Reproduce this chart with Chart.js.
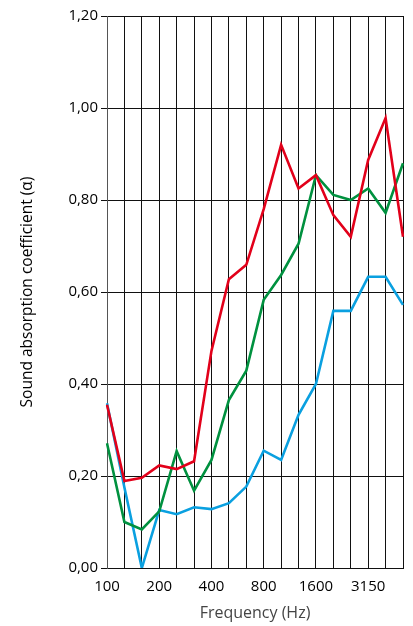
<!DOCTYPE html>
<html>
<head>
<meta charset="utf-8">
<script src="https://cdn.jsdelivr.net/npm/chart.js@4.4.1/dist/chart.umd.min.js"></script>
<style>
  html, body { margin: 0; padding: 0; background: #fff; }
  #wrap { width: 413px; height: 626px; }
</style>
</head>
<body>
<div id="wrap"><canvas id="chart" width="413" height="626"></canvas></div>
<script>
// 1/3 octave bands (Hz)
const bands = ['100', '125', '160', '200', '250', '315', '400', '500', '630', '800',
  '1000', '1250', '1600', '2000', '2500', '3150', '4000', '5000'];
const shownTicks = ['100', '200', '400', '800', '1600', '3150'];

const redValues = [0.355, 0.189, 0.196, 0.223, 0.215, 0.232, 0.472, 0.628, 0.659, 0.78,
  0.92, 0.825, 0.854, 0.767, 0.72, 0.887, 0.978, 0.72];
const greenValues = [0.271, 0.10, 0.084, 0.123, 0.254, 0.168, 0.235, 0.365, 0.429, 0.583,
  0.637, 0.705, 0.854, 0.811, 0.80, 0.825, 0.772, 0.88];
const blueValues = [0.358, 0.175, 0.0, 0.126, 0.117, 0.132, 0.128, 0.141, 0.177, 0.255,
  0.235, 0.333, 0.40, 0.559, 0.559, 0.633, 0.633, 0.572];

const font = '"Open Sans", "DejaVu Sans", sans-serif';

const ctx = document.getElementById('chart');
new Chart(ctx, {
  type: 'line',
  data: {
    labels: bands,
    datasets: [
      { data: redValues, borderColor: '#e2001a' },
      { data: greenValues, borderColor: '#00913f' },
      { data: blueValues, borderColor: '#0aa0e0' },
    ].map(d => Object.assign(d, {
      borderWidth: 2.6,
      pointRadius: 0,
      tension: 0,
      fill: false,
    })),
  },
  options: {
    responsive: false,
    animation: false,
    layout: { padding: { top: 16, right: 9, left: 0, bottom: 0 } },
    plugins: { legend: { display: false }, tooltip: { enabled: false } },
    scales: {
      x: {
        type: 'category',
        offset: false,
        afterFit: s => { s.height = 58; },
        grid: { color: '#111', lineWidth: 1, drawTicks: false },
        border: { color: '#111' },
        ticks: {
          autoSkip: false,
          maxRotation: 0,
          padding: 10,
          color: '#000',
          font: { family: font, size: 15 },
          callback: function (v) {
            const lab = this.getLabelForValue(v);
            return shownTicks.includes(lab) ? lab : '';
          },
        },
        title: {
          display: true,
          text: 'Frequency (Hz)',
          color: '#444',
          font: { family: font, size: 16 },
          padding: { top: 0, bottom: 3 },
        },
      },
      y: {
        min: 0,
        max: 1.2,
        afterFit: s => { s.width = 107; },
        grid: { color: '#111', lineWidth: 1, drawTicks: true, tickLength: 6 },
        border: { color: '#555' },
        ticks: {
          stepSize: 0.2,
          padding: 3,
          color: '#000',
          font: { family: font, size: 15 },
          callback: v => v.toFixed(2).replace('.', ','),
        },
        title: {
          display: true,
          text: 'Sound absorption coefficient (α)',
          color: '#000',
          font: { family: font, size: 15.5 },
          padding: { top: 18, bottom: 0 },
        },
      },
    },
  },
});
</script>
</body>
</html>
